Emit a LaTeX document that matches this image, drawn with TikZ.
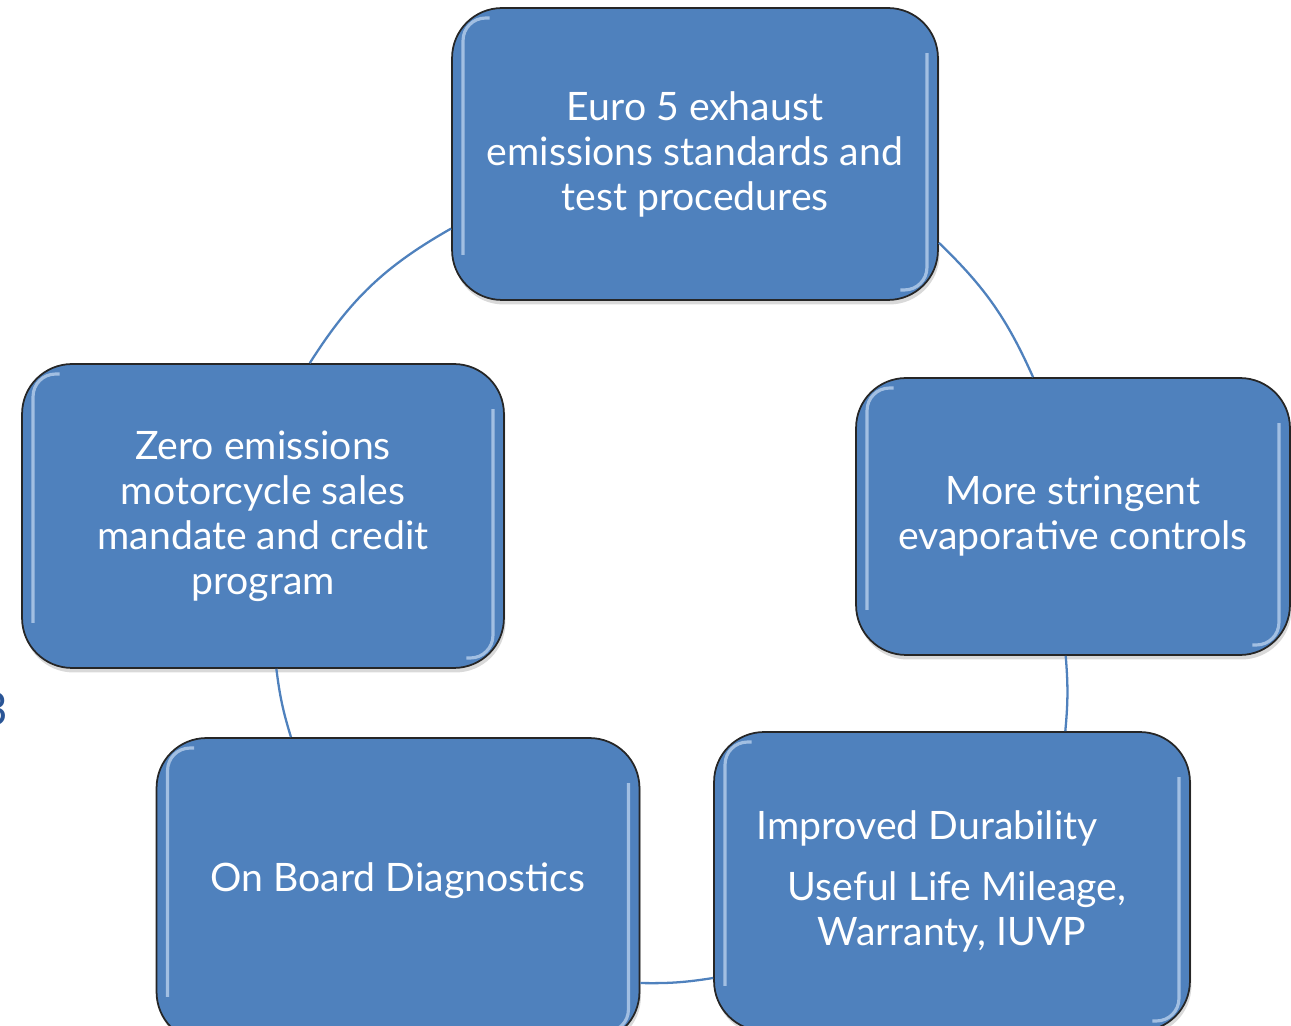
\documentclass[tikz,border=0pt]{standalone}
\usepackage{fontspec}
\setmainfont{Lato}
\usepackage{xcolor}
\usetikzlibrary{shadows}
\definecolor{stageblue}{HTML}{4F81BD}
\definecolor{numblue}{HTML}{2A5596}
\definecolor{glossblue}{HTML}{C6DAF2}

\tikzset{
  stage/.style={draw=black!85, line width=1pt, fill=stageblue, rounded corners=1cm,
    text=white, align=center, font=\fontsize{22.3}{25.6}\selectfont,
    drop shadow={shadow xshift=0.3mm, shadow yshift=-0.9mm, opacity=0.3},
    path picture={
      \draw[glossblue, opacity=0.7, line width=1.8pt, rounded corners=0.45cm]
        ([shift={(0.75cm,-0.2cm)}]path picture bounding box.north west)
        -- ([shift={(0.22cm,-0.2cm)}]path picture bounding box.north west)
        -- ([shift={(0.22cm,0.9cm)}]path picture bounding box.south west);
      \draw[glossblue, opacity=0.7, line width=1.8pt, rounded corners=0.45cm]
        ([shift={(-0.22cm,-0.9cm)}]path picture bounding box.north east)
        -- ([shift={(-0.22cm,0.2cm)}]path picture bounding box.south east)
        -- ([shift={(-0.75cm,0.2cm)}]path picture bounding box.south east);
    }},
  link/.style={draw=stageblue, line width=1.3pt}
}

\begin{document}
\begin{tikzpicture}[x=0.02cm, y=0.02cm]
    \path[use as bounding box, clip] (0, 0) rectangle (1291, 1025);

    \node[anchor=east, inner sep=0pt, text=numblue, font=\fontsize{26}{30}\selectfont]
          (slidenum) at (8, 316) {3};

    \node[stage, minimum width=9.72cm, minimum height=5.84cm]
          (euro) at (695, 871) {Euro 5 exhaust\\emissions standards and\\test procedures};
    \node[stage, minimum width=8.68cm, minimum height=5.54cm]
          (evap) at (1073, 508.5) {More stringent\\evaporative controls};
    \node[stage, minimum width=9.52cm, minimum height=5.98cm]
          (dura) at (952, 143.5) {Improved Durability\kern1cm\\[0.32cm]Useful Life Mileage,\kern-0.2cm\\Warranty, IUVP};
    \node[stage, minimum width=9.66cm, minimum height=6.08cm, text depth=0.5cm]
          (obd)  at (398, 135) {On Board Diagnostics};
    \node[stage, minimum width=9.64cm, minimum height=6.08cm]
          (zero) at (263, 509) {Zero emissions\\motorcycle sales\\mandate and credit\\program};

    % cycle arcs
    \draw[link] (euro.-20)  to[bend left=11] (evap.106);
    \draw[link] (evap.-93)  to[bend left=5]  (dura.53);
    \draw[link] (dura.-158) to[bend left=5]  (obd.-21);
    \draw[link] (obd.125)   to[bend left=5]  (zero.-85);
    \draw[link] (zero.73)   to[bend left=14] (euro.-163);
\end{tikzpicture}
\end{document}
